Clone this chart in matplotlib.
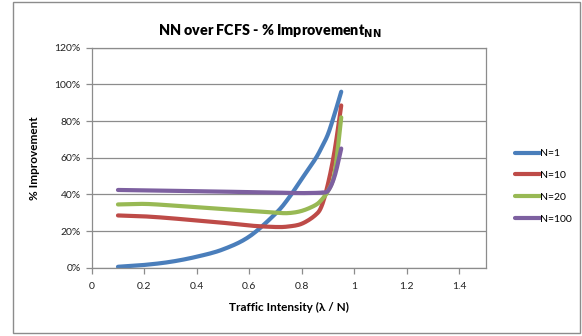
import numpy as np
import matplotlib
matplotlib.use("Agg")
import matplotlib.pyplot as plt
from matplotlib.patches import Rectangle
from matplotlib.ticker import FuncFormatter, MultipleLocator

# Traffic intensity samples and % improvement of NN over FCFS
traffic = [0.1, 0.2, 0.3, 0.4, 0.5, 0.6, 0.7, 0.75, 0.8, 0.85, 0.875, 0.9, 0.925, 0.95]
n1 = [0.5, 1.5, 3.2, 6.0, 10.0, 17.0, 29.5, 38.0, 48.5, 59.0, 65.5, 73.0, 84.0, 96.0]
n10 = [28.5, 28.0, 27.0, 25.7, 24.5, 23.0, 22.2, 22.5, 24.0, 28.5, 33.5, 46.0, 64.0, 88.5]
n20 = [34.5, 34.8, 34.0, 33.0, 32.0, 31.0, 30.0, 29.8, 31.0, 34.0, 37.0, 42.0, 52.0, 82.0]
n100 = [42.4, 42.2, 42.0, 41.7, 41.5, 41.2, 41.0, 40.8, 40.7, 40.8, 41.0, 42.0, 50.0, 65.0]

series_labels = ["N=1", "N=10", "N=20", "N=100"]
series_values = [n1, n10, n20, n100]
colors = ["#4A7EBB", "#BE4B48", "#98B954", "#7D60A0"]


def smooth_line(xs, ys, steps=12):
    """Catmull-Rom path through the points (smoothed line)."""
    p = np.column_stack([xs, ys]).astype(float)
    p = np.vstack([p[0], p, p[-1]])
    out = []
    t = np.linspace(0, 1, steps, endpoint=False)[:, None]
    for i in range(1, len(p) - 2):
        p0, p1, p2, p3 = p[i - 1], p[i], p[i + 1], p[i + 2]
        seg = 0.5 * ((2 * p1) + (-p0 + p2) * t + (2 * p0 - 5 * p1 + 4 * p2 - p3) * t ** 2
                     + (-p0 + 3 * p1 - 3 * p2 + p3) * t ** 3)
        out.append(seg)
    out.append(p[-2][None, :])
    out = np.vstack(out)
    return out[:, 0], out[:, 1]


plt.rcParams["font.family"] = ["Lato", "DejaVu Sans"]

W, H = 582, 336
fig = plt.figure(figsize=(W / 100, H / 100), dpi=100)

# chart border
fig.patches.append(Rectangle((13 / W, 1 - 333 / H), (580 - 13) / W, (333 - 2) / H,
                             transform=fig.transFigure, fill=False,
                             edgecolor="#8C8C8C", linewidth=1.0))

ax = fig.add_axes([91.7 / W, 1 - 267.7 / H, (485.7 - 91.7) / W, (267.7 - 47.7) / H])

for vals, lab, col in zip(series_values, series_labels, colors):
    sx, sy = smooth_line(traffic, vals)
    ax.plot(sx, sy, color=col, linewidth=3.0, solid_capstyle="round",
            solid_joinstyle="round", label=lab)

ax.set_xlim(0, 1.5)
ax.set_ylim(0, 120)
ax.yaxis.set_major_locator(MultipleLocator(20))
ax.set_xticks([0, 0.2, 0.4, 0.6, 0.8, 1.0, 1.2, 1.4])
ax.xaxis.set_major_formatter(FuncFormatter(lambda v, p: "%g" % round(v, 1)))
ax.yaxis.set_major_formatter(FuncFormatter(lambda v, p: "%d%%" % round(v)))

ax.grid(axis="y", color="#8C8C8C", linewidth=0.9)
ax.set_axisbelow(True)
for s in ax.spines.values():
    s.set_color("#8C8C8C")
    s.set_linewidth(0.9)
ax.tick_params(axis="both", direction="out", length=4, width=0.9, color="#8C8C8C",
               labelsize=7.5, labelcolor="#222222")
ax.tick_params(axis="x", pad=6)
ax.tick_params(axis="y", pad=4)

ax.set_xlabel("Traffic Intensity (λ / N)", fontsize=8.5, fontweight="bold", labelpad=8)
ax.set_ylabel("% Improvement", fontsize=8.5, fontweight="bold", labelpad=10)

fig.text(270 / W, 1 - 31 / H, r"NN over FCFS - % Improvement$_{\mathbf{NN}}$",
         ha="center", va="center", fontsize=10.3, fontweight="heavy")

leg = ax.legend(loc="center left", bbox_to_anchor=(1.05, 0.37), frameon=False,
                fontsize=7.5, handlelength=2.4, handletextpad=0.0, labelspacing=1.2)

fig.savefig("out.png", dpi=100)
